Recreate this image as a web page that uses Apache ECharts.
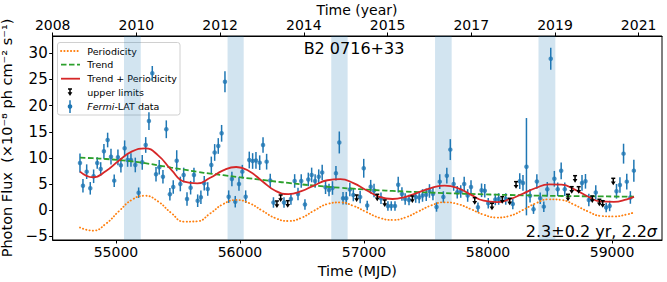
<!DOCTYPE html>
<html><head><meta charset="utf-8">
<script src="https://cdn.jsdelivr.net/npm/echarts@6/dist/echarts.min.js"></script>
<style>html,body{margin:0;padding:0;background:#fff}#c{width:667px;height:282px}</style>
</head><body><div id="c"></div>
<script>
// ---- data ----
const fermiMJD = [54710,54734,54764,54793,54820,54849,54877,54903,54933,54960,
54986,55016,55040,55070,55094,55121,55156,55183,55212,55240,
55266,55293,55323,55349,55379,55406,55435,55462,55490,55519,
55546,55573,55602,55629,55659,55685,55712,55740,55769,55796,
55825,55852,55879,55909,55935,55962,55992,56019,56046,56075,
56102,56129,56159,56186,56215,56244,56270,56355,56411,56441,
56468,56494,56524,56551,56578,56606,56635,56663,56690,56718,
56746,56774,56801,56831,56857,56886,56914,56969,56998,57026,
57054,57081,57137,57193,57220,57250,57276,57306,57332,57363,
57417,57445,57472,57502,57528,57556,57585,57611,57640,57668,
57696,57723,57752,57780,57808,57836,57863,57919,57948,57974,
58002,58059,58086,58143,58200,58256,58282,58310,58339,58367,
58394,58421,58450,58478,58506,58535,58562,58590,58619,58758,
58786,58813,58869,58953,58981,59036,59064,59093,59119,59148,
59176];
const fermiFlux = [9.04,4.70,7.38,4.20,6.50,9.04,7.89,11.27,13.43,10.24,
5.66,10.13,8.60,11.85,9.61,9.61,8.66,3.36,9.17,12.48,
17.06,26.18,6.88,8.22,6.42,15.48,3.06,4.45,9.48,5.03,
6.75,2.16,4.32,6.75,1.83,2.48,5.16,4.07,8.66,11.05,
12.29,14.71,24.57,2.60,5.98,1.64,5.03,7.38,2.60,9.61,
9.42,9.52,9.10,12.48,9.29,5.69,1.49,1.49,2.16,5.60,
3.11,5.60,1.11,5.89,6.75,5.60,6.42,7.22,4.41,3.88,
4.26,7.07,12.96,2.29,2.29,3.97,2.92,2.54,8.03,0.92,
4.51,3.78,2.29,0.82,0.82,0.82,4.89,3.11,2.16,1.97,
2.54,2.45,2.83,2.98,3.69,3.11,0.63,5.47,2.54,6.61,
11.60,5.03,3.44,3.59,5.03,2.83,4.45,0.57,3.82,3.73,
1.34,2.06,2.16,2.16,1.20,5.56,5.22,8.33,2.77,0.21,
5.50,2.29,0.69,4.01,28.97,6.02,4.01,7.55,4.01,5.22,
5.54,1.97,3.40,0.54,0.82,3.63,4.83,10.82,5.47,2.45,
7.57];
const fermiErr = [1.8,1.3,1.4,1.2,1.3,1.1,1.3,1.4,1.4,1.5,
1.2,1.5,1.4,1.5,1.3,1.3,1.4,1.0,1.4,1.5,
1.7,1.4,1.4,1.4,1.3,1.7,1.2,1.3,2.0,1.4,
1.4,1.3,1.3,1.4,1.2,1.3,1.4,1.3,1.6,1.6,
1.5,1.6,2.0,1.2,1.4,1.1,1.3,1.3,1.2,1.6,
1.5,1.6,1.4,1.5,1.5,1.3,1.0,1.0,1.1,1.3,
1.2,1.3,1.0,1.3,1.4,1.3,1.4,1.5,1.3,1.2,
1.3,1.4,2.1,1.2,1.2,1.3,1.2,1.2,1.8,0.9,
1.3,1.3,1.1,0.9,0.9,0.9,1.5,1.3,1.1,1.0,
1.1,1.1,1.2,1.2,1.3,1.2,0.9,1.4,1.1,1.5,
2.0,1.3,1.2,1.2,1.4,1.2,1.3,0.9,1.3,1.3,
1.0,1.1,1.1,1.1,1.0,1.5,1.5,9.3,1.3,0.9,
1.4,1.1,1.0,1.4,2.1,1.5,1.3,1.6,1.3,1.5,
1.4,1.2,1.4,0.9,1.0,1.4,1.5,1.9,1.5,1.2,
2.1];
const ulMJD  = [56298,56328,56385,56941,57107,57167,57390,57893,58032,58115,58175,58226,58645,58675,58702,58731,58841,58898,58925,59010];
const ulFlux = [1.78,2.92,1.83,2.92,3.06,1.97,2.73,2.41,1.34,2.60,2.29,5.47,3.06,4.51,6.61,4.51,2.73,2.10,1.83,6.11];

const curveMJD = [54710,54815,54920,55025,55130,55235,55340,55445,55550,55655,
55760,55865,55970,56075,56180,56285,56390,56495,56600,56705,
56810,56915,57020,57125,57230,57335,57440,57545,57650,57755,
57860,57965,58070,58175,58280,58385,58490,58595,58700,58805,
58910,59015,59120,59177];
const periodFlux = [-3.3,-3.9,-2.55,-0.15,2.02,2.78,1.68,-0.50,-2.17,-2.11,
-0.61,1.19,1.97,1.36,-0.08,-1.49,-2.05,-1.44,-0.04,1.20,
1.50,0.84,-0.34,-1.44,-1.85,-1.36,-0.21,0.96,1.52,1.20,
0.23,-0.83,-1.39,-1.07,0.04,1.33,2.10,1.96,1.01,-0.21,
-1.08,-1.17,-0.8,-0.4];
const trendFlux = [10.05,9.95,9.8,9.6,9.35,9.0,8.6,8.15,7.75,7.35,
7.0,6.7,6.4,6.1,5.8,5.5,5.22,4.95,4.72,4.5,
4.3,4.12,3.96,3.82,3.7,3.58,3.48,3.38,3.28,3.2,
3.12,3.05,2.98,2.92,2.86,2.81,2.77,2.73,2.7,2.67,
2.65,2.63,2.61,2.6];
const totalFlux = [7.4,6.31,7.52,9.51,11.25,11.84,10.50,7.75,5.47,5.14,
6.22,7.64,8.27,7.45,5.56,3.74,3.1,3.65,4.77,5.74,
5.96,5.19,3.82,2.57,2.16,2.57,3.43,4.29,4.70,4.25,
3.0,1.83,1.56,2.12,3.16,4.26,4.94,4.89,3.96,2.64,
1.69,1.62,2.1,2.55];

const bandStart = [55065,55900,56736,57573,58407];
const bandEnd   = [55200,56030,56868,57707,58543];

const yearTickLabels = ['2008','2010','2012','2014','2015','2017','2019','2021'];

// ---- chart ----
const FONT = 'DejaVu Sans';
const xMin = 54490, xMax = 59403;
const yearStep = 675; // days between top-axis ticks
const chart = echarts.init(document.getElementById('c'), null, {renderer: 'svg'});

const pairs = (xs, ys) => xs.map((x, i) => [x, ys[i]]);
const axisCommon = {
  axisLine: {show: true, onZero: false, lineStyle: {color: '#000', width: 1}},
  axisTick: {show: true, inside: false, length: 3.5, lineStyle: {color: '#000', width: 1}},
  splitLine: {show: false}
};

const option = {
  animation: false,
  backgroundColor: '#fff',
  textStyle: {fontFamily: FONT},
  grid: {left: 52.7, right: 5, top: 36, bottom: 42, containLabel: false, outerBoundsMode: 'none',
    show: true, borderColor: '#000', borderWidth: 1, backgroundColor: 'transparent'},
  xAxis: [
    Object.assign({
      type: 'value', position: 'bottom', min: xMin, max: xMax, splitNumber: 5,
      axisLabel: {color: '#000', fontSize: 14, fontFamily: FONT, margin: 5, showMinLabel: false, showMaxLabel: false,
        formatter: v => (v % 1000 === 0 ? String(v) : '')},
      name: 'Time (MJD)', nameLocation: 'middle', nameGap: 22,
      nameTextStyle: {color: '#000', fontSize: 14.5, fontFamily: FONT}
    }, axisCommon),
    Object.assign({
      type: 'value', position: 'top', min: 0, max: (xMax - xMin) / yearStep, interval: 1,
      axisLabel: {color: '#000', fontSize: 14, fontFamily: FONT, margin: 4, showMaxLabel: false,
        formatter: v => (Number.isInteger(v) && yearTickLabels[v] !== undefined ? yearTickLabels[v] : '')}
    }, axisCommon)
  ],
  yAxis: Object.assign({
    type: 'value', min: -5.68, max: 33.31, splitNumber: 8,
    axisLabel: {color: '#000', fontSize: 15, fontFamily: FONT, margin: 5, showMinLabel: false, showMaxLabel: false,
      formatter: v => (v % 5 === 0 ? (v < 0 ? '\u2212' + Math.abs(v) : String(v)) : '')},
    name: 'Photon Flux  (\u00d710\u207b\u2078 ph cm\u207b\u00b2 s\u207b\u00b9)', nameLocation: 'middle', nameGap: 31, nameRotate: 90,
    nameTextStyle: {color: '#000', fontSize: 14.5, fontFamily: FONT}
  }, axisCommon),
  series: [
    {
      type: 'line', name: 'bands', data: [], z: 1, silent: true,
      markArea: {silent: true, itemStyle: {color: 'rgba(31,119,180,0.2)'},
        data: bandStart.map((s, i) => [{xAxis: s}, {xAxis: bandEnd[i]}])}
    },
    {
      type: 'custom', name: 'errbars', z: 2,
      data: fermiMJD.map((m, i) => [m, fermiFlux[i], fermiErr[i]]),
      encode: {x: 0, y: 1},
      renderItem: (params, api) => {
        const x = api.value(0), y = api.value(1), e = api.value(2);
        const a = api.coord([x, y + e]), b = api.coord([x, y - e]);
        return {type: 'line', shape: {x1: a[0], y1: a[1], x2: b[0], y2: b[1]}, style: {stroke: '#1f77b4', lineWidth: 1.5}};
      }
    },
    {
      type: 'scatter', name: 'Fermi-LAT data', z: 3,
      data: pairs(fermiMJD, fermiFlux), symbol: 'circle', symbolSize: 4.5,
      itemStyle: {color: '#1f77b4'}
    },
    {
      type: 'line', name: 'Periodicity', z: 4, data: pairs(curveMJD, periodFlux), smooth: 0.5, showSymbol: false,
      lineStyle: {color: '#ff7f0e', width: 1.8, type: [0.3, 3.0], cap: 'round'}
    },
    {
      type: 'line', name: 'Trend', z: 4, data: pairs(curveMJD, trendFlux), smooth: 0.5, showSymbol: false,
      lineStyle: {color: '#2ca02c', width: 1.8, type: [5.5, 2.5]}
    },
    {
      type: 'line', name: 'Trend + Periodicity', z: 4, data: pairs(curveMJD, totalFlux), smooth: 0.5, showSymbol: false,
      lineStyle: {color: '#d62728', width: 1.8}
    },
    {
      type: 'custom', name: 'upper limits', z: 5,
      data: pairs(ulMJD, ulFlux), encode: {x: 0, y: 1},
      renderItem: (params, api) => {
        const p = api.coord([api.value(0), api.value(1)]);
        const x = p[0], y = p[1];
        return {type: 'group', children: [
          {type: 'line', shape: {x1: x - 2, y1: y, x2: x + 2, y2: y}, style: {stroke: '#000', lineWidth: 1.5}},
          {type: 'line', shape: {x1: x, y1: y, x2: x, y2: y + 4}, style: {stroke: '#000', lineWidth: 1.5}},
          {type: 'polygon', shape: {points: [[x - 2.4, y + 3.3], [x + 2.4, y + 3.3], [x, y + 7]]}, style: {fill: '#000'}}
        ]};
      }
    }
  ],
  graphic: [
    {type: 'text', z: 20, style: {x: 357, y: 9.5, text: 'Time (year)', fontSize: 14, fontFamily: FONT, fill: '#000', align: 'center', verticalAlign: 'middle'}},
    {type: 'text', z: 20, style: {x: 354, y: 48.5, text: 'B2 0716+33', fontSize: 16, fontFamily: FONT, fill: '#000', align: 'center', verticalAlign: 'middle'}},
    {type: 'text', z: 20, style: {x: 657, y: 231, text: '2.3\u00b10.2 yr, 2.2{s|\u03c3}', fontSize: 16, fontFamily: FONT, fill: '#000', align: 'right', verticalAlign: 'middle',
      rich: {s: {fontStyle: 'italic', fontSize: 16, fontFamily: FONT, fill: '#000'}}}},
    {type: 'group', z: 30, children: [
      {type: 'rect', shape: {x: 57.5, y: 42.5, width: 122.5, height: 72.5, r: 2.5}, style: {fill: 'rgba(255,255,255,0.8)', stroke: '#d0d0d0', lineWidth: 1}},
      {type: 'line', shape: {x1: 61, y1: 51, x2: 80, y2: 51}, style: {stroke: '#ff7f0e', lineWidth: 1.8, lineDash: [0.3, 3.0], lineCap: 'round'}},
      {type: 'line', shape: {x1: 61, y1: 64.7, x2: 80, y2: 64.7}, style: {stroke: '#2ca02c', lineWidth: 1.8, lineDash: [5.5, 2.5]}},
      {type: 'line', shape: {x1: 61, y1: 78.7, x2: 80, y2: 78.7}, style: {stroke: '#d62728', lineWidth: 1.8}},
      {type: 'line', shape: {x1: 68, y1: 89, x2: 72, y2: 89}, style: {stroke: '#000', lineWidth: 1.5}},
      {type: 'line', shape: {x1: 70, y1: 89, x2: 70, y2: 93}, style: {stroke: '#000', lineWidth: 1.5}},
      {type: 'polygon', shape: {points: [[67.6, 92.3], [72.4, 92.3], [70, 96]]}, style: {fill: '#000'}},
      {type: 'line', shape: {x1: 70, y1: 100.3, x2: 70, y2: 113}, style: {stroke: '#1f77b4', lineWidth: 1.5}},
      {type: 'circle', shape: {cx: 70, cy: 106.6, r: 2.3}, style: {fill: '#1f77b4'}},
      {type: 'text', style: {x: 87.3, y: 51, text: 'Periodicity', fontSize: 9.5, fontFamily: FONT, fill: '#000', verticalAlign: 'middle'}},
      {type: 'text', style: {x: 87.3, y: 64.7, text: 'Trend', fontSize: 9.5, fontFamily: FONT, fill: '#000', verticalAlign: 'middle'}},
      {type: 'text', style: {x: 87.3, y: 78.7, text: 'Trend + Periodicity', fontSize: 9.5, fontFamily: FONT, fill: '#000', verticalAlign: 'middle'}},
      {type: 'text', style: {x: 87.3, y: 92.5, text: 'upper limits', fontSize: 9.5, fontFamily: FONT, fill: '#000', verticalAlign: 'middle'}},
      {type: 'text', style: {x: 87.3, y: 106.4, text: '{i|Fermi}-LAT data', fontSize: 9.5, fontFamily: FONT, fill: '#000', verticalAlign: 'middle',
        rich: {i: {fontStyle: 'italic', fontSize: 9.5, fontFamily: FONT, fill: '#000'}}}}
    ]}
  ]
};
chart.setOption(option);
</script>
</body></html>
